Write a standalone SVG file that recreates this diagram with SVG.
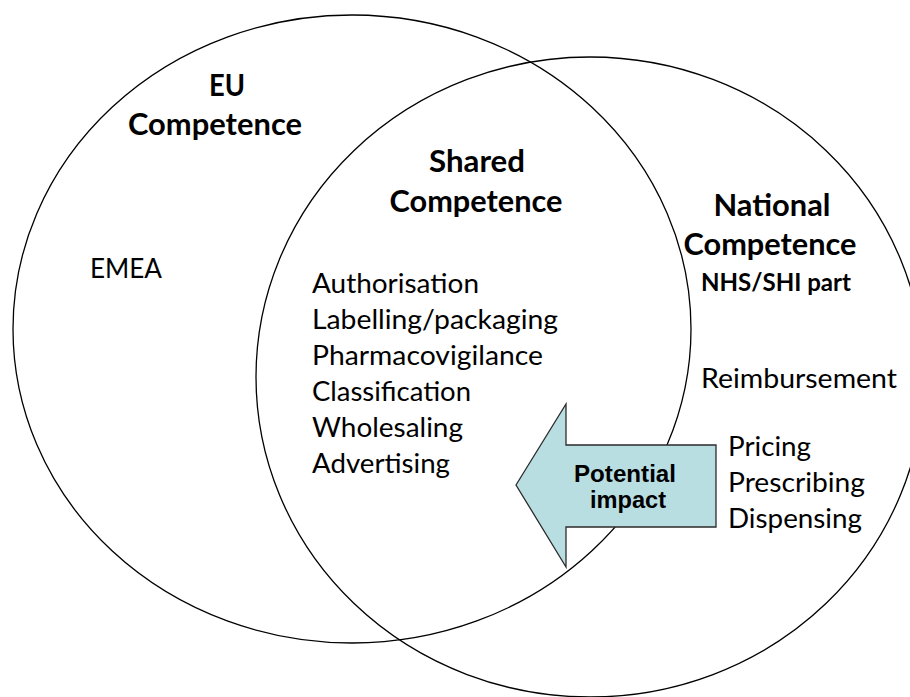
<svg xmlns="http://www.w3.org/2000/svg" width="910" height="697" viewBox="0 0 910 697">
  <style>
    .ring { fill: none; stroke: #000; stroke-width: 1.3; }
    .head { font-family: Lato, "Open Sans", sans-serif; font-weight: bold; font-size: 30px; fill: #000; }
    .sub { font-family: Lato, "Open Sans", sans-serif; font-weight: bold; font-size: 24.5px; fill: #000; }
    .item { font-family: Lato, "Open Sans", sans-serif; font-size: 27px; fill: #000; }
    .arrow { fill: #b8dee2; stroke: #2b2b2b; stroke-width: 1.3; stroke-linejoin: miter; }
    .arrow-label { font-family: "Liberation Sans", Arial, sans-serif; font-weight: bold; font-size: 23px; fill: #000; }
  </style>
  <rect width="910" height="697" fill="#fff"/>

  <!-- the two overlapping competence areas -->
  <g id="connectors">
    <ellipse id="eu-area" class="ring" cx="352" cy="329" rx="339" ry="314"/>
    <ellipse id="national-area" class="ring" cx="590" cy="377" rx="334" ry="320"/>
  </g>

  <g id="eu-competence">
    <text class="head" x="227" y="96" text-anchor="middle" textLength="36" lengthAdjust="spacingAndGlyphs">EU</text>
    <text class="head" x="215" y="135" text-anchor="middle" textLength="174" lengthAdjust="spacingAndGlyphs">Competence</text>
    <text class="item" x="90" y="278" textLength="72" lengthAdjust="spacingAndGlyphs">EMEA</text>
  </g>

  <g id="shared-competence">
    <text class="head" x="477" y="172" text-anchor="middle" textLength="96" lengthAdjust="spacingAndGlyphs">Shared</text>
    <text class="head" x="476" y="212" text-anchor="middle" textLength="173" lengthAdjust="spacingAndGlyphs">Competence</text>
    <text class="item" x="312" y="293" textLength="167" lengthAdjust="spacingAndGlyphs">Authorisation</text>
    <text class="item" x="312" y="329" textLength="246" lengthAdjust="spacingAndGlyphs">Labelling/packaging</text>
    <text class="item" x="312" y="365" textLength="231" lengthAdjust="spacingAndGlyphs">Pharmacovigilance</text>
    <text class="item" x="312" y="401" textLength="159" lengthAdjust="spacingAndGlyphs">Classification</text>
    <text class="item" x="312" y="437" textLength="151" lengthAdjust="spacingAndGlyphs">Wholesaling</text>
    <text class="item" x="312" y="473" textLength="138" lengthAdjust="spacingAndGlyphs">Advertising</text>
  </g>

  <g id="national-competence">
    <text class="head" x="772" y="216" text-anchor="middle" textLength="117" lengthAdjust="spacingAndGlyphs">National</text>
    <text class="head" x="770" y="255" text-anchor="middle" textLength="173" lengthAdjust="spacingAndGlyphs">Competence</text>
    <text class="sub" x="776" y="291" text-anchor="middle" textLength="150" lengthAdjust="spacingAndGlyphs">NHS/SHI part</text>
    <text class="item" x="701" y="388" textLength="196" lengthAdjust="spacingAndGlyphs">Reimbursement</text>
    <text class="item" x="728" y="456" textLength="83" lengthAdjust="spacingAndGlyphs">Pricing</text>
    <text class="item" x="728" y="492" textLength="137" lengthAdjust="spacingAndGlyphs">Prescribing</text>
    <text class="item" x="728" y="528" textLength="134" lengthAdjust="spacingAndGlyphs">Dispensing</text>
  </g>

  <!-- block arrow pointing from national into shared competence -->
  <g id="potential-impact">
    <polygon class="arrow" points="516,485 566,404 566,445 716,445 716,527 566,527 566,567"/>
    <text class="arrow-label" x="625" y="482" text-anchor="middle" textLength="102" lengthAdjust="spacingAndGlyphs">Potential</text>
    <text class="arrow-label" x="628" y="508" text-anchor="middle" textLength="76" lengthAdjust="spacingAndGlyphs">impact</text>
  </g>
</svg>
